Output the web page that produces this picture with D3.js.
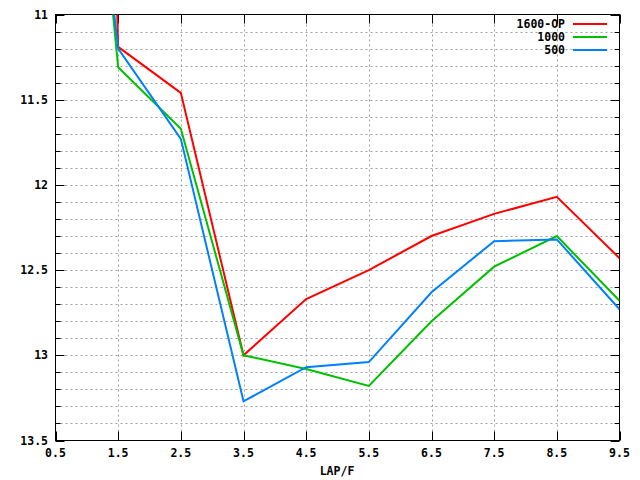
<!DOCTYPE html>
<html>
<head>
<meta charset="utf-8">
<script src="https://cdn.jsdelivr.net/npm/d3@7"></script>
<style>
  body { margin: 0; background: #fff; }
  text { font-family: "DejaVu Sans Mono", monospace; font-weight: bold; font-size: 11.5px; fill: #000; }
</style>
</head>
<body>
<div id="chart"></div>
<script>
var laps = [0.5, 1.5, 2.5, 3.5, 4.5, 5.5, 6.5, 7.5, 8.5, 9.5];
var op1600 = [-1.5, 11.19, 11.46, 13.0, 12.67, 12.50, 12.30, 12.17, 12.07, 12.43];
var s1000 = [7.5, 11.31, 11.67, 13.0, 13.08, 13.18, 12.80, 12.48, 12.30, 12.68];
var s500 = [8.0, 11.2, 11.73, 13.27, 13.07, 13.04, 12.63, 12.33, 12.32, 12.73];
var seriesNames = ['1600-OP', '1000', '500'];
var xTicks = [0.5, 1.5, 2.5, 3.5, 4.5, 5.5, 6.5, 7.5, 8.5, 9.5];
var yTicks = [11, 11.5, 12, 12.5, 13, 13.5];

var width = 640;
var height = 480;
var plotLeft = 55.5, plotRight = 619.5, plotTop = 14.5, plotBottom = 440.5;
var colors = ['#ff0000', '#00c000', '#0080ff'];
var allSeries = [op1600, s1000, s500];

var svg = d3.select('#chart').append('svg').attr('width', width).attr('height', height);

var x = d3.scaleLinear().domain([0.5, 9.5]).range([plotLeft, plotRight]);
var y = d3.scaleLinear().domain([11, 13.5]).range([plotTop, plotBottom]);

// minor y values every 0.1
var yMinor = d3.range(0, 26).map(function(i){ return +(11 + i * 0.1).toFixed(1); });

// Grid
var grid = svg.append('g').attr('stroke', '#a0a0a0').attr('stroke-dasharray', '2,3').attr('stroke-width', 1);
yMinor.forEach(function(v){
  if (v === 11 || v === 13.5) return;
  var yy = Math.round(y(v)) + 0.5;
  grid.append('line').attr('x1', plotLeft).attr('x2', plotRight).attr('y1', yy).attr('y2', yy);
});
xTicks.forEach(function(v){
  if (v === 0.5 || v === 9.5) return;
  var xx = Math.round(x(v)) + 0.5;
  grid.append('line').attr('x1', xx).attr('x2', xx).attr('y1', plotTop).attr('y2', plotBottom);
});

// Ticks
var ticks = svg.append('g').attr('stroke', '#000').attr('stroke-width', 1);
yMinor.forEach(function(v){
  var yy = Math.round(y(v)) + 0.5;
  var major = yTicks.indexOf(v) >= 0;
  var len = major ? 9 : 5;
  ticks.append('line').attr('x1', plotLeft).attr('x2', plotLeft + len).attr('y1', yy).attr('y2', yy);
  ticks.append('line').attr('x1', plotRight).attr('x2', plotRight - len).attr('y1', yy).attr('y2', yy);
});
xTicks.forEach(function(v){
  var xx = Math.round(x(v)) + 0.5;
  ticks.append('line').attr('x1', xx).attr('x2', xx).attr('y1', plotBottom).attr('y2', plotBottom - 9);
  ticks.append('line').attr('x1', xx).attr('x2', xx).attr('y1', plotTop).attr('y2', plotTop + 9);
});

// Border
svg.append('rect').attr('x', plotLeft).attr('y', plotTop).attr('width', plotRight - plotLeft).attr('height', plotBottom - plotTop)
  .attr('fill', 'none').attr('stroke', '#000').attr('stroke-width', 1);

// Tick labels
yTicks.forEach(function(v){
  svg.append('text').attr('x', 48).attr('y', y(v) + 4).attr('text-anchor', 'end').text(v);
});
xTicks.forEach(function(v){
  svg.append('text').attr('x', x(v)).attr('y', 457).attr('text-anchor', 'middle').text(v);
});
svg.append('text').attr('x', 337).attr('y', 475).attr('text-anchor', 'middle').text('LAP/F');

// Data lines
svg.append('clipPath').attr('id', 'plotclip').append('rect')
  .attr('x', plotLeft).attr('y', plotTop).attr('width', plotRight - plotLeft).attr('height', plotBottom - plotTop);

var line = d3.line().x(function(d, i){ return x(laps[i]); }).y(function(d){ return y(d); });
var plot = svg.append('g').attr('clip-path', 'url(#plotclip)');
allSeries.forEach(function(s, i){
  plot.append('path').datum(s).attr('d', line)
    .attr('fill', 'none').attr('stroke', colors[i]).attr('stroke-width', 2);
});

// Legend
seriesNames.forEach(function(name, i){
  var ly = 24 + i * 13;
  svg.append('text').attr('x', 565).attr('y', ly + 4).attr('text-anchor', 'end').text(name);
  svg.append('line').attr('x1', 573).attr('x2', 607).attr('y1', ly).attr('y2', ly)
    .attr('stroke', colors[i]).attr('stroke-width', 2);
});
</script>
</body>
</html>
